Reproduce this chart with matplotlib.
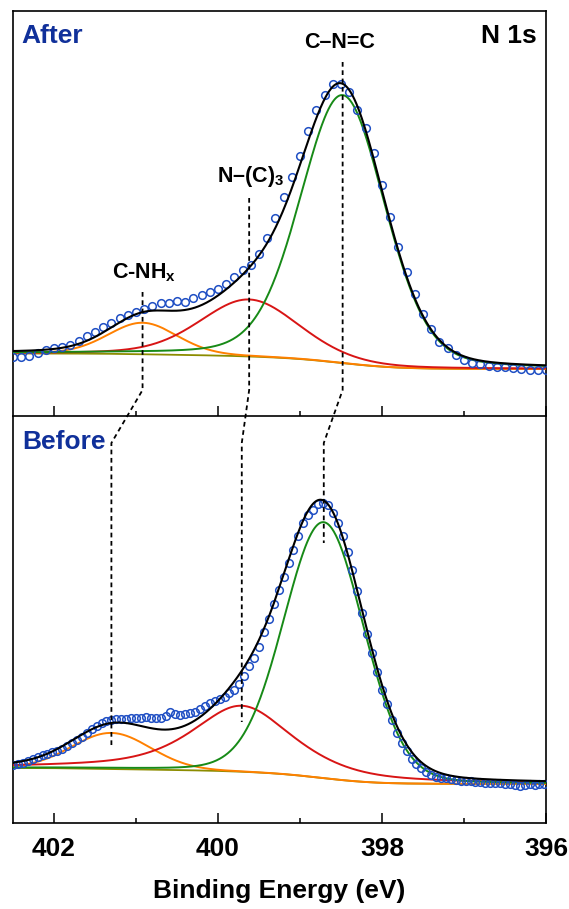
import numpy as np
import matplotlib
matplotlib.use('Agg')
import matplotlib.pyplot as plt
import matplotlib.ticker as ticker
from matplotlib.lines import Line2D

plt.rcParams['font.family'] = ['Liberation Sans', 'DejaVu Sans']
plt.rcParams['font.weight'] = 'bold'
plt.rcParams['mathtext.fontset'] = 'custom'
plt.rcParams['mathtext.rm'] = 'Liberation Sans:bold'
plt.rcParams['mathtext.bf'] = 'Liberation Sans:bold'
plt.rcParams['mathtext.it'] = 'Liberation Sans:bold'
plt.rcParams['mathtext.default'] = 'bf'

# ---- measured spectra (binding energy in eV, intensity in a.u.) ----
energy_after = np.linspace(402.5, 396.0, 66)      # 0.1 eV steps
counts_after = [59, 59, 60, 63, 66, 68, 69, 71, 75, 80,
                84, 89, 93, 98, 101, 104, 107, 110, 113, 113,
                115, 114, 118, 121, 124, 127, 132, 139, 146, 151,
                162, 178, 198, 219, 239, 260, 285, 306, 321, 332,
                332, 324, 306, 288, 263, 231, 199, 169, 144, 122,
                102, 87, 74, 68, 61, 56, 53, 52, 50, 49,
                49, 48, 47, 46, 46, 46]

energy_before = np.linspace(402.5, 396.02, 109)   # 0.06 eV steps
counts_before = [58, 59, 60, 62, 64, 66, 68, 69, 71, 72,
                 74, 77, 80, 83, 86, 90, 94, 97, 100, 102,
                 103, 104, 104, 104, 105, 105, 105, 106, 105, 105,
                 105, 107, 111, 109, 108, 109, 110, 111, 114, 117,
                 120, 122, 124, 126, 130, 133, 139, 147, 157, 165,
                 176, 191, 204, 219, 233, 246, 260, 273, 287, 300,
                 308, 313, 319, 320, 318, 310, 300, 287, 271, 253,
                 232, 210, 189, 170, 151, 133, 119, 103, 90, 80,
                 72, 64, 59, 55, 51, 48, 46, 45, 45, 44,
                 43, 42, 42, 42, 41, 41, 40, 40, 40, 40,
                 39, 39, 38, 37, 38, 39, 38, 39, 39]

# ---- fitted components: C-NHx, N-(C)3, C-N=C ----
after_center = [400.92, 399.62, 398.48]
after_fwhm = [1.00, 1.42, 1.22]
after_height = [31.5, 57, 268]
after_lorentz = [0.15, 0.25, 0.20]
after_bg = [62.5, 47]       # high-BE level, low-BE level

before_center = [401.30, 399.71, 398.71]
before_fwhm = [1.13, 1.46, 1.15]
before_height = [36, 66, 256]
before_lorentz = [0.05, 0.70, 0.10]
before_bg = [55, 39]

comp_colors = ['#FF8000', '#D81515', '#178A17']


def gl_peak(e, c, w, h, m):
    d = (e - c) / w
    return h * ((1 - m) * np.exp(-4 * np.log(2) * d**2) + m / (1 + 4 * d**2))


def draw_panel(ax, energy, counts, center, fwhm, height, lorentz, bg):
    e = np.linspace(396.0, 402.5, 800)
    peaks = [gl_peak(e, c, w, h, m)
             for c, w, h, m in zip(center, fwhm, height, lorentz)]
    total = np.sum(peaks, axis=0)
    # Shirley type background
    area = np.concatenate([[0], np.cumsum((total[1:] + total[:-1]) / 2 * np.diff(e))])
    shirley = bg[1] + (bg[0] - bg[1]) * area / area[-1]
    ax.plot(e, shirley, color='#8C8C00', lw=1.3, zorder=2)
    for i in range(3):
        ax.plot(e, peaks[i] + shirley, color=comp_colors[i], lw=1.4, zorder=3)
    ax.plot(energy, counts, 'o', mfc='none', mec='#1F4FC4', ms=5.5, mew=1.1, zorder=4)
    ax.plot(e, total + shirley, color='black', lw=1.5, zorder=5)


fig = plt.figure(figsize=(5.69, 9.09), dpi=100)
ax_top = fig.add_axes([13/569, 493/909, 533/569, 405/909])
ax_bot = fig.add_axes([13/569, 86/909, 533/569, 406/909])

draw_panel(ax_top, energy_after, counts_after, after_center, after_fwhm,
           after_height, after_lorentz, after_bg)
draw_panel(ax_bot, energy_before, counts_before, before_center, before_fwhm,
           before_height, before_lorentz, before_bg)

ax_top.set_ylim(0, 405)
ax_bot.set_ylim(0, 406)
for ax in (ax_top, ax_bot):
    ax.set_xlim(402.5, 396.0)
    ax.set_yticks([])
    ax.xaxis.set_major_locator(ticker.MultipleLocator(2))
    ax.xaxis.set_minor_locator(ticker.MultipleLocator(1))
    ax.tick_params(axis='x', which='major', direction='in', length=7.5, width=1.1,
                   top=False, labelsize=19, pad=10)
    ax.tick_params(axis='x', which='minor', direction='in', length=3.8, width=1.1,
                   top=False)
    for s in ax.spines.values():
        s.set_linewidth(1.2)
ax_top.tick_params(axis='x', labelbottom=False)
ax_bot.spines['top'].set_visible(False)
ax_bot.xaxis.set_major_formatter(ticker.FormatStrFormatter('%d'))
ax_bot.set_xlabel('Binding Energy (eV)', fontsize=19, fontweight='bold', labelpad=13)

navy = '#10309A'
ax_top.text(0.015, 0.921, 'After', transform=ax_top.transAxes, fontsize=19,
            color=navy, ha='left', va='baseline')
ax_bot.text(0.017, 0.921, 'Before', transform=ax_bot.transAxes, fontsize=19,
            color=navy, ha='left', va='baseline')
ax_top.text(0.983, 0.921, 'N 1s', transform=ax_top.transAxes, fontsize=19,
            ha='right', va='baseline')

ax_top.text(398.52, 368, 'C\u2013N=C', fontsize=15.5, ha='center', va='baseline')
ax_top.text(399.6, 234, 'N\u2013(C)$_3$', fontsize=15.5, ha='center', va='baseline')
ax_top.text(400.9, 138, 'C-NH$_x$', fontsize=15.5, ha='center', va='baseline')

# dashed guides linking peak positions across the two panels
to_fig = fig.transFigure.inverted()
guide_top = [124, 218, 354]
guide_bot = [76, 101, 280]
for i in range(3):
    pts = [ax_top.transData.transform((after_center[i], guide_top[i])),
           ax_top.transData.transform((after_center[i], 26)),
           ax_bot.transData.transform((before_center[i], 380)),
           ax_bot.transData.transform((before_center[i], guide_bot[i]))]
    pts = to_fig.transform(np.array(pts))
    fig.add_artist(Line2D(pts[:, 0], pts[:, 1], color='black', lw=1.3,
                          ls=(0, (2.6, 2.0)), zorder=10))

fig.savefig('out.png', dpi=100)
